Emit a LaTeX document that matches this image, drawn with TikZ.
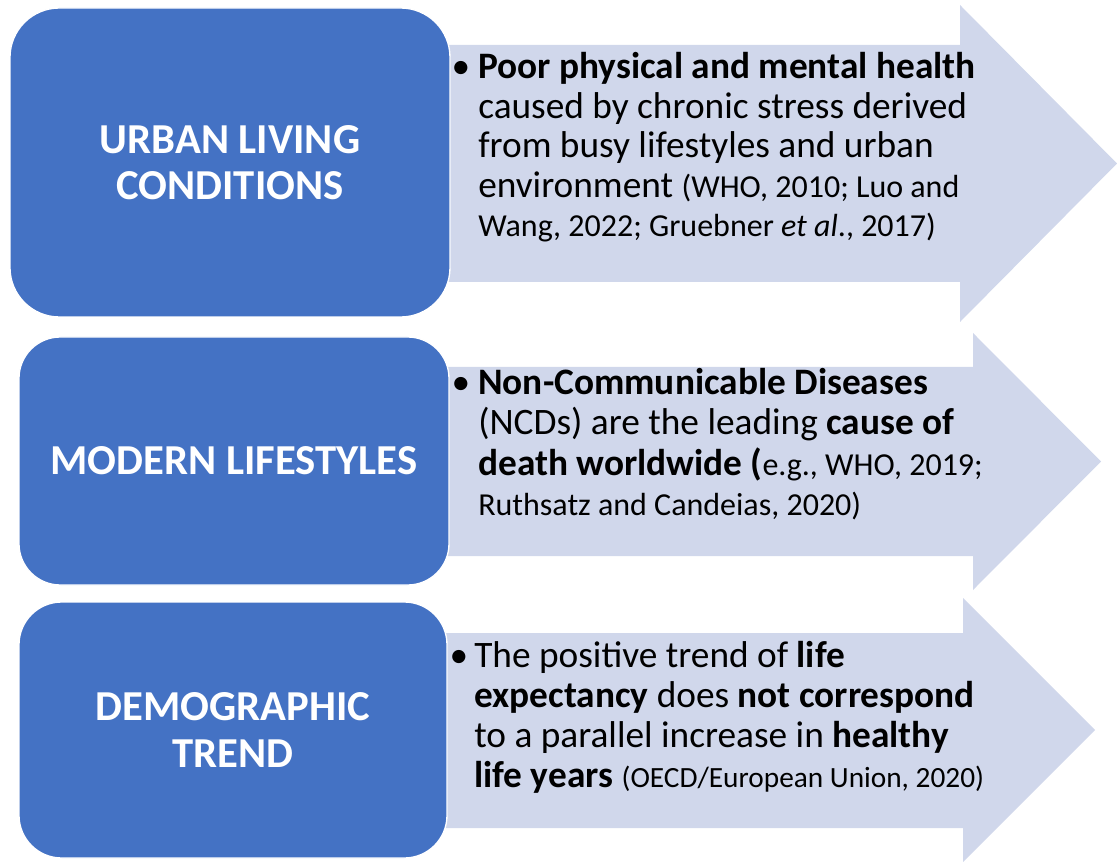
\documentclass[tikz,border=0pt]{standalone}
\usepackage{fontspec}
\setmainfont{Carlito}
\definecolor{boxblue}{HTML}{4472C4}
\definecolor{arrowfill}{HTML}{D0D7EB}
\newcommand{\citetxt}[1]{{\fontsize{24}{30}\selectfont #1}}
\newcommand{\citesmall}[1]{{\fontsize{22}{30}\selectfont #1}}
\tikzset{
  boxstyle/.style={rectangle, rounded corners=#1, fill=boxblue, draw=white, line width=1pt,
    text=white, align=center, inner sep=0pt, font=\fontsize{32}{35}\selectfont\bfseries},
  arrowshape/.style={fill=arrowfill, draw=none},
  txtline/.style={anchor=base west, inner sep=0pt, font=\fontsize{28}{30}\selectfont},
  bulletnode/.style={anchor=base, inner sep=0pt, font=\fontsize{28}{30}\selectfont}
}
\begin{document}
\begin{tikzpicture}[x=0.75pt,y=-0.75pt]
\useasboundingbox (0,0) rectangle (1117,862);
% arrows
\fill[arrowshape] (440,45) -- (960,45) -- (960,5) -- (1117,163.5) -- (960,322) -- (960,282) -- (440,282) -- cycle;
\fill[arrowshape] (440,367) -- (973,367) -- (973,333) -- (1101,461.5) -- (973,590) -- (973,556) -- (440,556) -- cycle;
\fill[arrowshape] (440,633) -- (963,633) -- (963,598) -- (1095,730) -- (963,862) -- (963,828) -- (440,828) -- cycle;
% boxes
\node[boxstyle=37pt, minimum width=330pt, minimum height=231.75pt] (b1) at (230,162.5) {URBAN LIVING\\CONDITIONS};
\node[boxstyle=31pt, minimum width=322.5pt, minimum height=186pt] (b2) at (234,461) {MODERN LIFESTYLES};
\node[boxstyle=32pt, minimum width=321pt, minimum height=192pt] (b3) at (233,730) {DEMOGRAPHIC\\TREND};
% arrow 1 text
\node[bulletnode] (u0) at (461,79) {•};
\node[txtline] (u1) at (478,79) {\textbf{Poor physical and mental health}};
\node[txtline] (u2) at (478,118.5) {caused by chronic stress derived};
\node[txtline] (u3) at (478,158) {from busy lifestyles and urban};
\node[txtline] (u4) at (478,197.5) {environment \citetxt{(WHO, 2010; Luo and}};
\node[txtline] (u5) at (478,237) {\citetxt{Wang, 2022; Gruebner \textit{et al}., 2017)}};
% arrow 2 text
\node[bulletnode] (m0) at (461,395) {•};
\node[txtline] (m1) at (478,395) {\textbf{Non-Communicable Diseases}};
\node[txtline] (m2) at (478,435) {(NCDs) are the leading \textbf{cause of}};
\node[txtline] (m3) at (478,475) {\textbf{death worldwide (}\citetxt{e.g., WHO, 2019;}};
\node[txtline] (m4) at (478,515) {\citetxt{Ruthsatz and Candeias, 2020)}};
% arrow 3 text
\node[bulletnode] (d0) at (459,667) {•};
\node[txtline] (d1) at (474,667) {The positive trend of \textbf{life}};
\node[txtline] (d2) at (474,707) {\textbf{expectancy} does \textbf{not correspond}};
\node[txtline] (d3) at (474,747) {to a parallel increase in \textbf{healthy}};
\node[txtline] (d4) at (474,787) {\textbf{life years} \citesmall{(OECD/European Union, 2020)}};
\end{tikzpicture}
\end{document}
